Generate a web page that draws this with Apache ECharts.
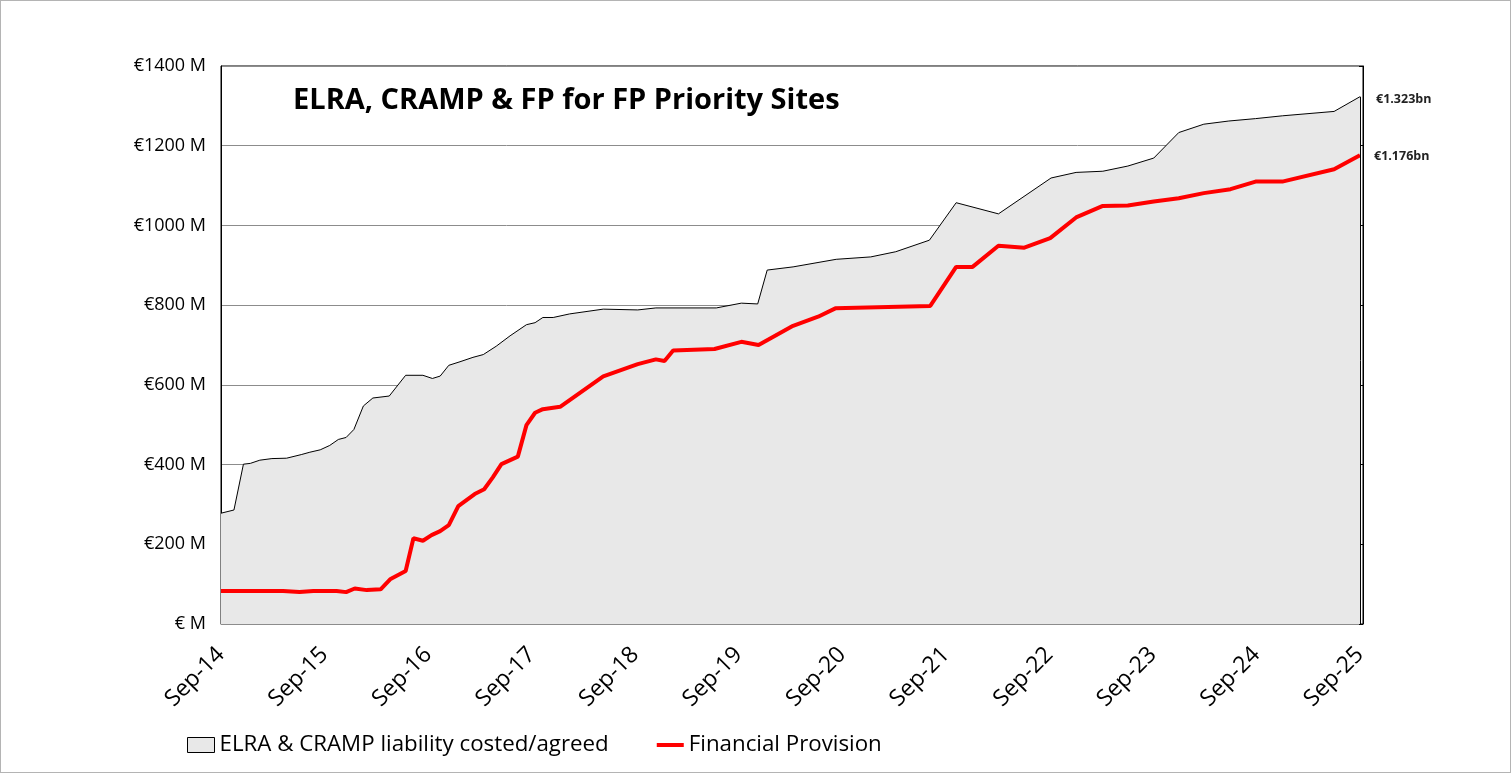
<!DOCTYPE html>
<html>
<head>
<meta charset="utf-8">
<script src="https://cdn.jsdelivr.net/npm/echarts@6/dist/echarts.min.js"></script>
<style>
html,body{margin:0;padding:0;background:#fff;}
#wrap{width:1511px;height:773px;box-sizing:border-box;border:1px solid #b4b4b4;}
#chart{width:1509px;height:771px;}
</style>
</head>
<body>
<div id="wrap"><div id="chart"></div></div>
<script>
// Months elapsed since Sep-2014
const liabilityMonths = [0,1.5,2.6,3.4,4.5,5.9,7.6,9.3,10.3,11.5,12.6,13.6,14.5,15.4,16.5,17.6,19.5,21.4,23.4,24.5,25.4,26.4,27.7,29.2,30.4,31.9,33.5,35.4,36.4,37.3,38.5,40.4,44.3,48.3,50.4,57.4,60.3,62.2,63.3,66.3,71.3,75.3,78.2,82.1,85.2,90.1,96.2,99.1,102.2,105.1,108.1,111,113.9,116.8,119.9,123,129,132];
const liabilityValues = [278,286,401,403,411,415,416,425,431,437,448,463,468,488,547,567,572,624,624,616,622,649,658,669,676,697,723,751,756,769,769,778,790,788,793,793,805,803,888,896,915,921,934,963,1057,1029,1119,1133,1136,1149,1169,1233,1254,1262,1268,1275,1286,1323];

const provisionMonths = [0,7.2,9.1,10.7,13.4,14.5,15.5,16.9,18.5,19.6,21.4,22.3,23.4,24.4,25.4,26.4,27.5,29.4,30.5,31.5,32.5,34.4,35.4,36.4,37.3,39.3,44.3,48.3,50.4,51.4,52.4,57.2,60.3,62.3,66.3,69.2,71.2,82.2,85.2,87.1,90.1,93.1,96.1,99.1,102.2,105.1,108.1,111,113.9,117,119.9,123,129,132];
const provisionValues = [83,83,80,83,83,80,89,85,87,112,133,215,209,223,233,248,296,326,338,368,401,420,499,530,539,545,621,652,664,660,686,690,708,700,748,771,792,798,896,896,949,944,968,1020,1049,1050,1060,1068,1081,1091,1110,1110,1141,1176];

const tickYears = ['14','15','16','17','18','19','20','21','22','23','24','25'];
const seriesNames = ['ELRA & CRAMP liability costed/agreed','Financial Provision'];
const titleText = 'ELRA, CRAMP & FP for FP Priority Sites';

const FONT = 'Open Sans';
const zip = (a,b)=>a.map((m,i)=>[m,b[i]]);
const liabData = zip(liabilityMonths, liabilityValues);
const provData = zip(provisionMonths, provisionValues);
const lastLiab = liabData[liabData.length-1];
const lastProv = provData[provData.length-1];
const bn = v => '€' + (v/1000).toFixed(3) + 'bn';

const chart = echarts.init(document.getElementById('chart'));
chart.setOption({
  animation:false,
  backgroundColor:'#fff',
  textStyle:{fontFamily:FONT},
  title:{
    text:titleText,
    left:292, top:85, padding:0,
    textStyle:{fontFamily:FONT,fontSize:29,fontWeight:'bold',color:'#000'}
  },
  grid:{left:220, right:147, top:65, bottom:148, show:true, borderColor:'#000', borderWidth:1, backgroundColor:'transparent'},
  legend:{
    left:186, top:733, padding:0,
    itemWidth:27, itemHeight:15, itemGap:46,
    textStyle:{fontFamily:FONT,fontSize:22.3,color:'#000'},
    data:[
      {name:seriesNames[0], icon:'rect', itemStyle:{color:'#e8e8e8', borderColor:'#000', borderWidth:1}},
      {name:seriesNames[1], itemStyle:{color:'rgba(0,0,0,0)', borderWidth:0}, lineStyle:{color:'#ff0000', width:4}}
    ]
  },
  xAxis:{
    type:'value', min:0, max:132.35, interval:12,
    axisLine:{show:true, lineStyle:{color:'#8c8c8c', width:1}},
    axisTick:{show:false},
    splitLine:{show:false},
    axisLabel:{
      rotate:45, margin:27, fontSize:23, color:'#000', fontFamily:FONT,
      showMaxLabel:false,
      formatter:v => { const i = Math.round(v/12); return (Math.abs(v-i*12)<0.01 && tickYears[i]) ? 'Sep-' + tickYears[i] : ''; }
    }
  },
  yAxis:[{
    type:'value', min:0, max:1400, interval:200,
    axisLine:{show:true, lineStyle:{color:'#000', width:1}},
    axisTick:{show:false},
    splitLine:{show:true, lineStyle:{color:'#8c8c8c', width:1}},
    axisLabel:{fontSize:18, color:'#000', margin:15, fontFamily:FONT,
      formatter:v => v===0 ? '€ M' : '€' + v + ' M'}
  },{
    type:'value', min:0, max:1400, interval:200, position:'right',
    axisLine:{show:true, lineStyle:{color:'#000', width:1}},
    axisTick:{show:true, inside:true, length:4, lineStyle:{color:'#000'}},
    axisLabel:{show:false},
    splitLine:{show:false}
  }],
  series:[{
    name:seriesNames[0], type:'line', data:liabData,
    symbol:'none', z:2,
    lineStyle:{color:'#000', width:1},
    itemStyle:{color:'#e8e8e8', borderColor:'#000', borderWidth:1},
    areaStyle:{color:'#e8e8e8', opacity:1},
    markLine:{
      silent:true, symbol:'none', label:{show:false},
      lineStyle:{color:'#000', width:1, type:'solid'},
      data:[[{coord:[lastLiab[0],0]},{coord:[lastLiab[0],lastLiab[1]]}]]
    },
    markPoint:{
      symbol:'circle', symbolSize:0,
      label:{show:true, position:'right', distance:16, formatter:()=>bn(lastLiab[1]),
        fontSize:12.5, fontWeight:'bold', color:'#222', fontFamily:FONT, offset:[0,3]},
      data:[{coord:lastLiab}]
    }
  },{
    name:seriesNames[1], type:'line', data:provData,
    symbol:'none', z:3,
    lineStyle:{color:'#ff0000', width:4},
    itemStyle:{color:'#ff0000'},
    markPoint:{
      symbol:'circle', symbolSize:0,
      label:{show:true, position:'right', distance:14, formatter:()=>bn(lastProv[1]),
        fontSize:12.5, fontWeight:'bold', color:'#222', fontFamily:FONT, offset:[0,1]},
      data:[{coord:lastProv}]
    }
  }]
});
</script>
</body>
</html>
